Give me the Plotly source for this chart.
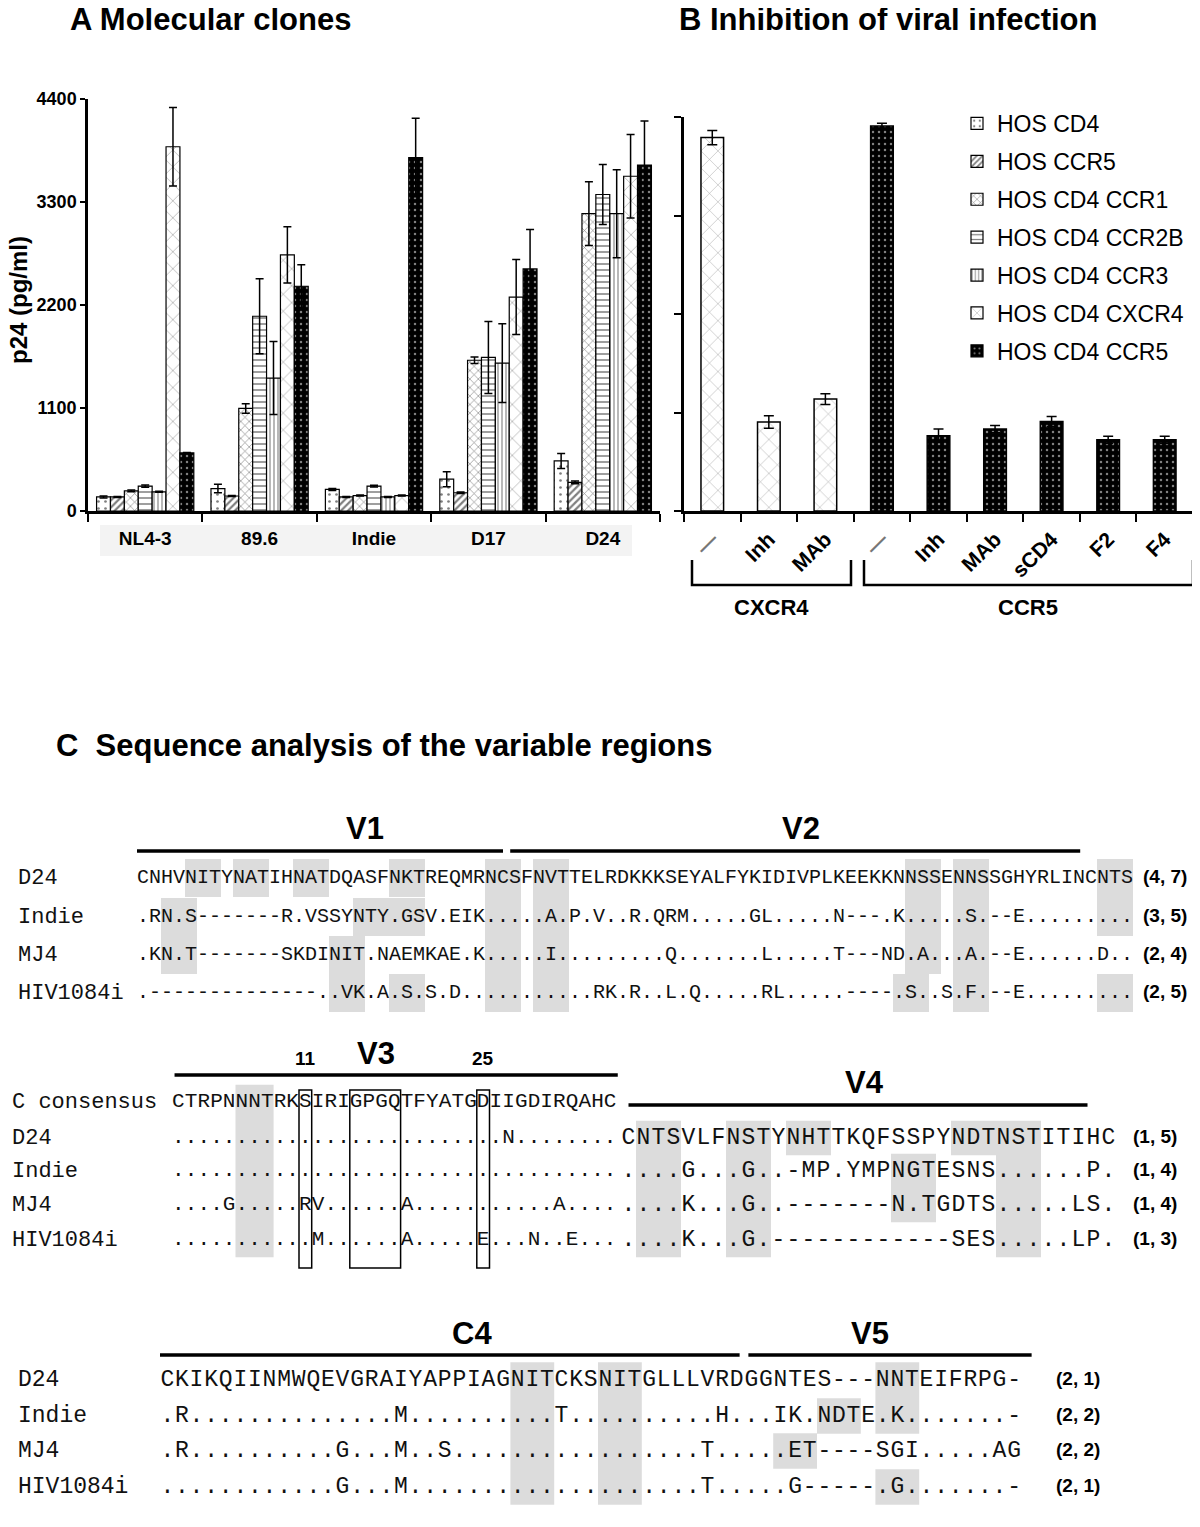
import plotly.graph_objects as go

# Page is 1200x1527; the html body adds an 8px margin, so the figure is 8px smaller
# and every page-pixel position below is converted with OFF.
W, H = 1200, 1527
OFF = 8
FW, FH = W - OFF, H - OFF
SANS = "Liberation Sans, Arial, sans-serif"
MONO = "Liberation Mono, DejaVu Sans Mono, monospace"


def px(x):
    return (x - OFF) / FW


def py(y):
    return 1 - (y - OFF) / FH


# ---------------- Panel A: molecular clones, p24 (pg/ml) ----------------
strains = ["NL4-3", "89.6", "Indie", "D17", "D24"]
cell_lines = ["HOS CD4", "HOS CCR5", "HOS CD4 CCR1", "HOS CD4 CCR2B",
              "HOS CD4 CCR3", "HOS CD4 CXCR4", "HOS CD4 CCR5"]
p24_hos_cd4 = [150, 240, 230, 340, 535]
p24_hos_ccr5 = [150, 160, 150, 195, 305]
p24_hos_cd4_ccr1 = [215, 1095, 165, 1610, 3175]
p24_hos_cd4_ccr2b = [265, 2080, 265, 1640, 3380]
p24_hos_cd4_ccr3 = [205, 1420, 150, 1580, 3175]
p24_hos_cd4_cxcr4 = [3890, 2735, 165, 2285, 3575]
p24_hos_cd4_ccr5 = [620, 2400, 3775, 2585, 3695]
err_hos_cd4 = [10, 45, 10, 80, 80]
err_hos_ccr5 = [5, 5, 5, 8, 15]
err_hos_cd4_ccr1 = [10, 50, 5, 35, 340]
err_hos_cd4_ccr2b = [12, 400, 10, 385, 320]
err_hos_cd4_ccr3 = [5, 390, 5, 420, 470]
err_hos_cd4_cxcr4 = [420, 300, 5, 400, 445]
err_hos_cd4_ccr5 = [5, 230, 420, 420, 470]
p24_ticks = [0, 1100, 2200, 3300, 4400]

# ---------------- Panel B: inhibition of viral infection ----------------
inhib_labels = ['<span style="color:#777777">—</span>', "Inh", "MAb",
                '<span style="color:#777777">—</span>', "Inh", "MAb", "sCD4", "F2", "F4"]
inhib_coreceptor = ["CXCR4", "CXCR4", "CXCR4", "CCR5", "CCR5", "CCR5", "CCR5", "CCR5", "CCR5"]
inhib_p24 = [4170, 995, 1250, 4300, 840, 915, 1000, 795, 795]
inhib_err = [80, 70, 60, 30, 75, 40, 55, 40, 40]

# ---------------- Panel C: sequences ----------------
names_v12 = ["D24", "Indie", "MJ4", "HIV1084i"]
v1_seqs = ["CNHVNITYNATIHNATDQASFNKTREQMRNC",
           ".RN.S-------R.VSSYNTY.GSV.EIK..",
           ".KN.T-------SKDINIT.NAEMKAE.K..",
           ".--------------..VK.A.S.S.D...."]
v2_seqs = ["SFNVTTELRDKKKSEYALFYKIDIVPLKEEKKNNSSENNSSGHYRLINCNTS",
           "...A.P.V..R.QRM.....GL.....N---.K.....S.--E.........",
           "...I.........Q.......L.....T---ND.A...A.--E......D..",
           ".......RK.R..L.Q.....RL.....----.S..S.F.--E........."]
counts_v12 = ["(4, 7)", "(3, 5)", "(2, 4)", "(2, 5)"]

names_v34 = ["C consensus", "D24", "Indie", "MJ4", "HIV1084i"]
v3_seqs = ["CTRPNNNTRKSIRIGPGQTFYATGDIIGDIRQAHC",
           "..........................N........",
           "...................................",
           "....G.....RV......A...........A....",
           "...........M......A.....E...N..E..."]
v4_seqs = ["",
           "CNTSVLFNSTYNHTTKQFSSPYNDTNSTITIHC",
           "....G...G..-MP.YMPNGTESNS......P.",
           "....K...G..-------N.TGDTS.....LS.",
           "....K...G.------------SES.....LP."]
counts_v34 = ["", "(1, 5)", "(1, 4)", "(1, 4)", "(1, 3)"]

names_c4v5 = ["D24", "Indie", "MJ4", "HIV1084i"]
c4_seqs = ["CKIKQIINMWQEVGRAIYAPPIAGNITCKSNITGLLLVRDG",
           ".R..............M..........T..........H..",
           ".R..........G...M..S.................T...",
           "............G...M....................T..."]
v5_seqs = ["GNTES---NNTEIFRPG-",
           ".IK.NDTE.K.......-",
           "..ET----SGI.....AG",
           "..G-----.G.......-"]
counts_c4v5 = ["(2, 1)", "(2, 2)", "(2, 2)", "(2, 1)"]

# shaded glycosylation sites: (first row, last row, first column, last column)
shade_v12 = [(0, 0, 4, 6), (0, 0, 8, 10), (0, 0, 13, 15), (0, 0, 21, 23),
             (1, 2, 2, 4), (1, 1, 18, 23), (2, 2, 16, 18), (3, 3, 16, 18), (3, 3, 21, 23),
             (0, 3, 29, 31), (0, 3, 33, 35), (0, 2, 64, 66), (3, 3, 63, 65),
             (0, 3, 68, 70), (0, 1, 80, 82), (3, 3, 80, 82)]
shade_v3 = [(0, 4, 5, 7)]
shade_v4 = [(1, 4, 36, 38), (1, 4, 42, 44), (1, 1, 46, 48), (1, 1, 57, 59),
            (2, 3, 53, 55), (1, 4, 60, 62)]
boxes_v3 = [(10, 10), (14, 17), (24, 24)]
shade_c4v5 = [(0, 3, 24, 26), (0, 3, 30, 32), (0, 1, 49, 51), (1, 1, 45, 47),
              (2, 2, 42, 44), (3, 3, 49, 51)]

# ---------------- styles ----------------
PAT = {
    "HOS CD4": dict(shape=".", fgcolor="black", bgcolor="white", size=7, solidity=0.12),
    "HOS CCR5": dict(shape="/", fgcolor="black", bgcolor="white", size=5, solidity=0.45),
    "HOS CD4 CCR1": dict(shape="x", fgcolor="black", bgcolor="white", size=6, solidity=0.2),
    "HOS CD4 CCR2B": dict(shape="-", fgcolor="black", bgcolor="white", size=6, solidity=0.25),
    "HOS CD4 CCR3": dict(shape="|", fgcolor="#333333", bgcolor="white", size=4, solidity=0.35),
    "HOS CD4 CXCR4": dict(shape="x", fgcolor="black", bgcolor="white", size=12, solidity=0.08),
    "HOS CD4 CCR5": dict(shape=".", fgcolor="white", bgcolor="black", size=6, solidity=0.14),
}

fig = go.Figure()

series_vals = [p24_hos_cd4, p24_hos_ccr5, p24_hos_cd4_ccr1, p24_hos_cd4_ccr2b,
               p24_hos_cd4_ccr3, p24_hos_cd4_cxcr4, p24_hos_cd4_ccr5]
series_errs = [err_hos_cd4, err_hos_ccr5, err_hos_cd4_ccr1, err_hos_cd4_ccr2b,
               err_hos_cd4_ccr3, err_hos_cd4_cxcr4, err_hos_cd4_ccr5]
for name, vals, errs in zip(cell_lines, series_vals, series_errs):
    st = PAT[name]
    fig.add_trace(go.Bar(
        x=strains, y=vals, name=name, legendgroup=name,
        marker=dict(color=st["bgcolor"], line=dict(color="black", width=1.2), pattern=st),
        error_y=dict(type="data", array=errs, color="black", thickness=1.5, width=4),
        xaxis="x", yaxis="y"))

b_style = [PAT["HOS CD4 CXCR4"] if g == "CXCR4" else PAT["HOS CD4 CCR5"] for g in inhib_coreceptor]
fig.add_trace(go.Bar(
    x=list(range(len(inhib_labels))), y=inhib_p24, width=0.4, showlegend=False,
    marker=dict(color=[s["bgcolor"] for s in b_style], line=dict(color="black", width=1.5),
                pattern=dict(shape=[s["shape"] for s in b_style],
                             fgcolor=[s["fgcolor"] for s in b_style],
                             bgcolor=[s["bgcolor"] for s in b_style],
                             size=[s["size"] for s in b_style],
                             solidity=[s["solidity"] for s in b_style])),
    error_y=dict(type="data", array=inhib_err, color="black", thickness=1.5, width=5),
    xaxis="x2", yaxis="y2"))

# ---------------- panel C geometry (page-pixel axis x3/y3) ----------------
G12 = dict(left=137.0, cw=12.0, rows=[878, 917, 955, 993], rh=38.0, size=20)
G3 = dict(left=172.0, cw=12.7, rows=[1102, 1138, 1171, 1205, 1240], rh=34.5, size=21)
G4 = dict(left=621.0 - 35 * 15.0, cw=15.0, rows=G3["rows"], rh=34.5, size=23)
G56 = dict(left=160.0, cw=14.6, rows=[1380, 1416, 1451, 1487], rh=35.7, size=23)


def cx(g, c):
    return g["left"] + (c + 0.5) * g["cw"]


def add_seq(strings, col0, g):
    xs, ys, tt = [], [], []
    for s, y in zip(strings, g["rows"]):
        for i, ch in enumerate(s):
            xs.append(cx(g, col0 + i))
            ys.append(y)
            tt.append(ch)
    fig.add_trace(go.Scatter(x=xs, y=ys, text=tt, mode="text",
                             textfont=dict(family=MONO, size=g["size"], color="#111111"),
                             xaxis="x3", yaxis="y3", showlegend=False, hoverinfo="skip"))


shapes = []


def add_shades(spec, g):
    for r0, r1, c0, c1 in spec:
        shapes.append(dict(type="rect", xref="x3", yref="y3",
                           x0=g["left"] + c0 * g["cw"], x1=g["left"] + (c1 + 1) * g["cw"],
                           y0=g["rows"][r0] - g["rh"] / 2, y1=g["rows"][r1] + g["rh"] / 2,
                           fillcolor="#dcdcdc", line=dict(width=0), layer="below"))


add_shades(shade_v12, G12)
add_shades(shade_v3, G3)
add_shades(shade_v4, G4)
add_shades(shade_c4v5, G56)

add_seq([a + b for a, b in zip(v1_seqs, v2_seqs)], 0, G12)
add_seq(v3_seqs, 0, G3)
add_seq(v4_seqs, 35, G4)
add_seq([a + b for a, b in zip(c4_seqs, v5_seqs)], 0, G56)


def add_labels(names, ys, x, size):
    fig.add_trace(go.Scatter(x=[x] * len(names), y=ys, text=names, mode="text",
                             textposition="middle right",
                             textfont=dict(family=MONO, size=size, color="#111111"),
                             xaxis="x3", yaxis="y3", showlegend=False, hoverinfo="skip"))


def add_counts(counts, ys, x):
    fig.add_trace(go.Scatter(x=[x] * len(counts), y=ys, text=counts, mode="text",
                             textposition="middle right",
                             textfont=dict(family=SANS, size=19, color="black", weight="bold"),
                             xaxis="x3", yaxis="y3", showlegend=False, hoverinfo="skip"))


add_labels(names_v12, G12["rows"], 18, 22)
add_labels(names_v34, G3["rows"], 12, 22)
add_labels(names_c4v5, G56["rows"], 18, 23)
add_counts(counts_v12, G12["rows"], 1143)
add_counts(counts_v34, G3["rows"], 1133)
add_counts(counts_c4v5, G56["rows"], 1056)

# V3 boxes
for c0, c1 in boxes_v3:
    shapes.append(dict(type="rect", xref="x3", yref="y3",
                       x0=G3["left"] + c0 * G3["cw"], x1=G3["left"] + (c1 + 1) * G3["cw"],
                       y0=1090, y1=1268, line=dict(color="black", width=1.5),
                       fillcolor="rgba(0,0,0,0)", layer="above"))

# region bars and labels: (label, grid, start col, end col, label col, line y, label y)
regions = [("V1", G12, 0.0, 30.5, 19.0, 851, 828),
           ("V2", G12, 31.1, 78.6, 55.3, 851, 828),
           ("V3", G3, 0.2, 35.1, 16.1, 1075, 1053),
           ("V4", G4, 35.5, 66.1, 51.2, 1105, 1082),
           ("C4", G56, 0.0, 39.7, 21.4, 1355, 1333),
           ("V5", G56, 40.3, 59.7, 48.6, 1355, 1333)]
annotations = []
for lab, g, c0, c1, cl, ly, ty in regions:
    shapes.append(dict(type="line", xref="x3", yref="y3",
                       x0=g["left"] + c0 * g["cw"], x1=g["left"] + c1 * g["cw"],
                       y0=ly, y1=ly, line=dict(color="black", width=3.5)))
    annotations.append(dict(xref="x3", yref="y3", x=g["left"] + cl * g["cw"], y=ty,
                            text=lab, showarrow=False,
                            font=dict(family=SANS, size=31, weight="bold", color="black")))
for num, col in [("11", 10), ("25", 24)]:
    annotations.append(dict(xref="x3", yref="y3", x=cx(G3, col), y=1058, text=num,
                            showarrow=False,
                            font=dict(family=SANS, size=19, weight="bold", color="black")))


def title(text, x, y, size):
    annotations.append(dict(xref="x3", yref="y3", x=x, y=y, text=text, showarrow=False,
                            xanchor="left", yanchor="middle",
                            font=dict(family=SANS, size=size, weight="bold", color="black")))


title("A Molecular clones", 68, 19, 31)
title("B Inhibition of viral infection", 677, 19, 31)
title("C  Sequence analysis of the variable regions", 54, 745, 31)
annotations.append(dict(xref="x3", yref="y3", x=18, y=300, text="p24 (pg/ml)", textangle=-90,
                        showarrow=False,
                        font=dict(family=SANS, size=24, weight="bold", color="black")))
annotations.append(dict(xref="x3", yref="y3", x=771, y=607, text="CXCR4", showarrow=False,
                        font=dict(family=SANS, size=22, weight="bold", color="black")))
annotations.append(dict(xref="x3", yref="y3", x=1028, y=607, text="CCR5", showarrow=False,
                        font=dict(family=SANS, size=22, weight="bold", color="black")))

# brackets under panel B
for xa, xb in [(692, 851), (864, 1193)]:
    shapes.append(dict(type="path", xref="x3", yref="y3",
                       path=f"M{xa},560 L{xa},585 L{xb},585 L{xb},560",
                       line=dict(color="black", width=2.5)))

# faint band behind panel A category labels
shapes.append(dict(type="rect", xref="paper", yref="paper", x0=px(100), x1=px(632),
                   y0=py(556), y1=py(525), fillcolor="#f3f3f3",
                   line=dict(width=0), layer="below"))

axis_common = dict(showgrid=False, zeroline=False, automargin=False, fixedrange=True,
                   showline=True, linecolor="black", linewidth=2.5)

fig.update_layout(
    width=FW, height=FH, margin=dict(l=0, r=0, t=0, b=0, pad=0),
    paper_bgcolor="white", plot_bgcolor="rgba(0,0,0,0)",
    barmode="group", bargap=0.15, bargroupgap=0,
    font=dict(family=SANS, color="black"),
    showlegend=True,
    legend=dict(x=px(957), y=py(102), xanchor="left", yanchor="top",
                font=dict(family=SANS, size=23, color="black"),
                traceorder="grouped", tracegroupgap=5, bgcolor="rgba(0,0,0,0)"),
    xaxis=dict(domain=[px(88), px(660)], anchor="y", type="category",
               ticks="outside", tickson="boundaries", ticklen=8, tickwidth=2, tickcolor="black",
               ticklabelstandoff=8,
               tickfont=dict(family=SANS, size=19, weight="bold", color="black"),
               **axis_common),
    yaxis=dict(domain=[py(511), py(99)], anchor="x", range=[0, 4400],
               tickmode="array", tickvals=p24_ticks,
               ticks="outside", ticklen=5, tickwidth=2, tickcolor="black",
               tickfont=dict(family=SANS, size=18, weight="bold", color="black"),
               **axis_common),
    xaxis2=dict(domain=[px(684), px(1193)], anchor="y2", range=[-0.5, len(inhib_labels) - 0.5],
                tickmode="array", tickvals=list(range(len(inhib_labels))), ticktext=inhib_labels,
                ticks="", tickangle=-45, ticklabelstandoff=5,
                tickfont=dict(family=SANS, size=21, weight="bold", color="black"),
                minor=dict(tickmode="array",
                           tickvals=[i - 0.5 for i in range(len(inhib_labels) + 1)],
                           ticks="outside", ticklen=8, tickwidth=2, tickcolor="black",
                           showgrid=False),
                **axis_common),
    yaxis2=dict(domain=[py(511), py(117)], anchor="x2", range=[0, 4400],
                tickmode="array", tickvals=p24_ticks, showticklabels=False,
                ticks="outside", ticklen=7, tickwidth=2, tickcolor="black",
                **axis_common),
    xaxis3=dict(domain=[0, 1], range=[OFF, W], anchor="y3", visible=False, fixedrange=True),
    yaxis3=dict(domain=[0, 1], range=[H, OFF], anchor="x3", visible=False, fixedrange=True),
    shapes=shapes,
    annotations=annotations,
)

fig.write_html("out.html")
